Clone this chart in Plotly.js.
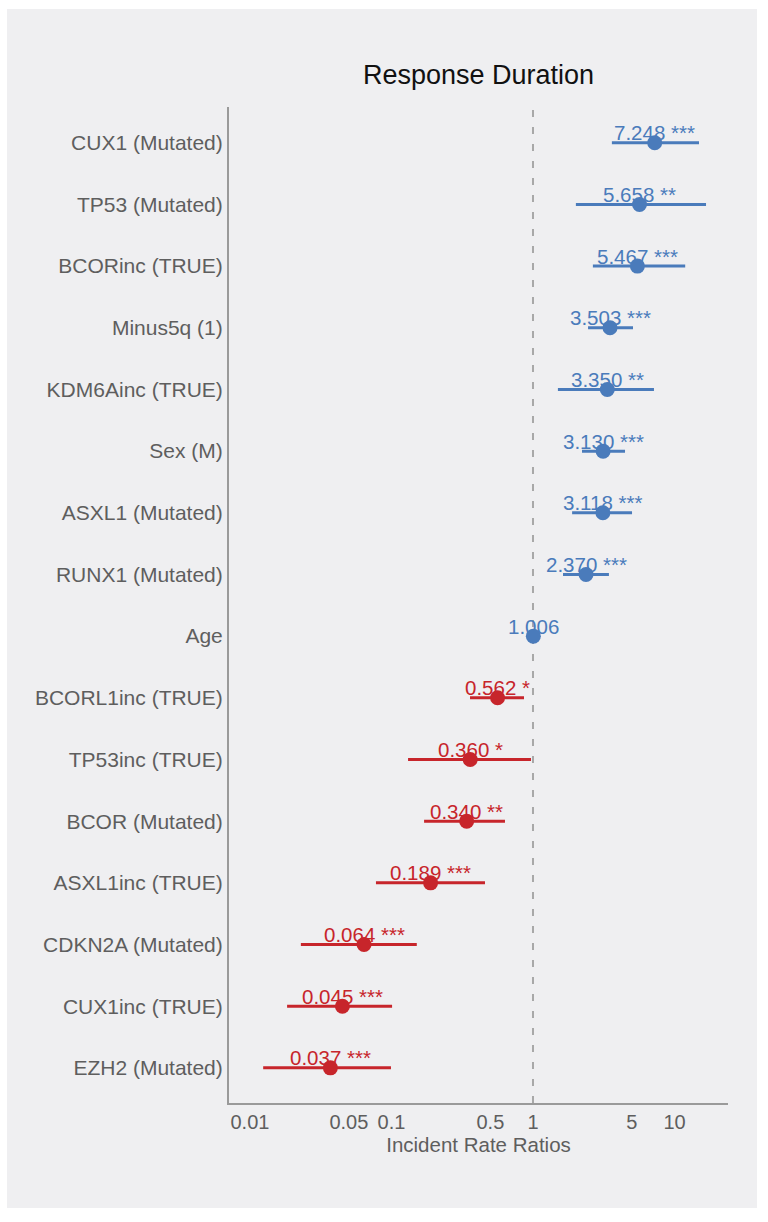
<!DOCTYPE html>
<html>
<head>
<meta charset="utf-8">
<script src="https://cdn.plot.ly/plotly-3.0.1.min.js"></script>
<style>
html,body{margin:0;padding:0;background:#ffffff;}
#chart{position:absolute;left:7px;top:9px;width:750px;height:1199px;}
</style>
</head>
<body>
<div id="chart"></div>
<script>
// Terms listed top to bottom
const terms = ["CUX1 (Mutated)","TP53 (Mutated)","BCORinc (TRUE)","Minus5q (1)","KDM6Ainc (TRUE)","Sex (M)","ASXL1 (Mutated)","RUNX1 (Mutated)","Age","BCORL1inc (TRUE)","TP53inc (TRUE)","BCOR (Mutated)","ASXL1inc (TRUE)","CDKN2A (Mutated)","CUX1inc (TRUE)","EZH2 (Mutated)"];
const estimates = [7.248,5.658,5.467,3.503,3.350,3.130,3.118,2.370,1.006,0.562,0.360,0.340,0.189,0.064,0.045,0.037];
const ciLow  = [3.61,2.01,2.65,2.45,1.50,2.22,1.89,1.63,1.003,0.359,0.131,0.170,0.0777,0.0229,0.0183,0.0124];
const ciHigh = [14.9,16.7,11.9,5.09,7.16,4.47,5.01,3.44,1.010,0.864,0.968,0.634,0.458,0.151,0.101,0.0992];
const stars  = ["***","**","***","***","**","***","***","***","","*","*","**","***","***","***","***"];
const tickVals = [0.01,0.05,0.1,0.5,1,5,10];
const tickText = ["0.01","0.05","0.1","0.5","1","5","10"];

const BLUE = "#4a7bbb", RED = "#c7252b";
const FONT = "Liberation Sans, Arial, sans-serif";

function makeTrace(pos){
  const idx = estimates.map((v,i)=>i).filter(i => pos ? estimates[i] > 1 : estimates[i] <= 1);
  const col = pos ? BLUE : RED;
  return {
    type:"scatter", mode:"markers",
    x: idx.map(i=>estimates[i]),
    y: idx.map(i=>terms[i]),
    marker:{color:col, size:15},
    error_x:{type:"data", symmetric:false,
      array: idx.map(i=>ciHigh[i]-estimates[i]),
      arrayminus: idx.map(i=>estimates[i]-ciLow[i]),
      width:0, thickness:3, color:col},
    hoverinfo:"x+y", showlegend:false
  };
}

const annotations = estimates.map((v,i)=>({
  x: Math.log10(v), y: terms[i], xref:"x", yref:"y",
  text: v.toFixed(3) + (stars[i] ? " " + stars[i] : ""),
  showarrow:false, yshift:10, xanchor:"center", yanchor:"middle",
  font:{family:FONT, size:20.5, color: v > 1 ? BLUE : RED}
}));

const layout = {
  width:750, height:1199,
  paper_bgcolor:"#efeff1", plot_bgcolor:"#efeff1",
  margin:{l:222, r:29, t:98, b:105},
  font:{family:FONT, color:"#5e5e5e", size:20},
  title:{text:"Response Duration", x:0.5, xref:"paper", y:1-66/1199, yref:"container", yanchor:"middle",
    font:{size:27, color:"#111111", family:FONT}},
  xaxis:{type:"log", range:[-2.148, 1.378], tickvals:tickVals, ticktext:tickText,
    showgrid:false, zeroline:false, showline:true, linecolor:"#9a9a9a", linewidth:2,
    ticks:"", tickfont:{size:20, color:"#5e5e5e"},
    title:{text:"Incident Rate Ratios", standoff:4, font:{size:20.5, color:"#5e5e5e"}}},
  yaxis:{type:"category", categoryorder:"array", categoryarray: terms.slice().reverse(),
    range:[-0.57, 15.58], showgrid:false, zeroline:false, showline:true, linecolor:"#9a9a9a", linewidth:2,
    ticks:"", tickfont:{size:21, color:"#5e5e5e"}},
  shapes:[{type:"line", xref:"x", yref:"paper", x0:1, x1:1, y0:0, y1:1,
    line:{color:"#a8a8a8", width:2, dash:"7px,10px"}, layer:"below"}],
  annotations: annotations
};

Plotly.newPlot("chart", [makeTrace(true), makeTrace(false)], layout, {displayModeBar:false, staticPlot:true});
</script>
</body>
</html>
